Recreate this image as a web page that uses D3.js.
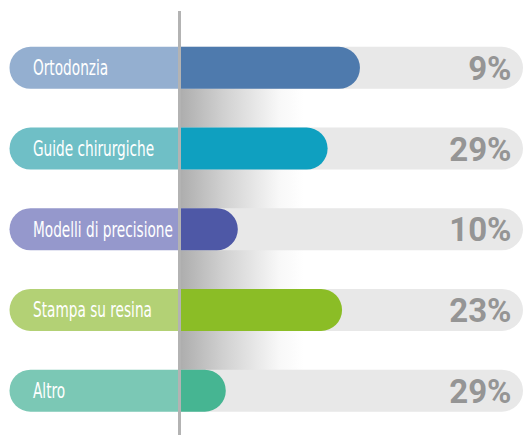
<!DOCTYPE html>
<html>
<head>
<meta charset="utf-8">
<script src="https://cdn.jsdelivr.net/npm/d3@7"></script>
<style>
  html, body { margin: 0; padding: 0; background: #fff; }
  svg { display: block; }
</style>
</head>
<body>
<svg width="523" height="435"></svg>
<script>
// categories, shown percentages and bar lengths (0-100 of the grey track)
const categories = ['Ortodonzia', 'Guide chirurgiche', 'Modelli di precisione', 'Stampa su resina', 'Altro'];
const percentLabels = ['9%', '29%', '10%', '23%', '29%'];
const barLengths = [52.6, 43.2, 17.1, 47.4, 13.6];
const pillColors = ['#94afd0', '#6fbfc6', '#9598cc', '#b3d175', '#7bc8b5'];
const barColors = ['#4e7aad', '#0fa0c0', '#4e58a6', '#8bbd26', '#46b592'];

const svg = d3.select('svg');
const width = 523, height = 435;
const axisX = 179;       // vertical line position
const pillLeft = 9.5;
const barH = 42;

const y = d3.scaleBand()
    .domain(categories)
    .range([27.5, 431])
    .paddingInner(0.48)
    .paddingOuter(0.24);

const x = d3.scaleLinear()
    .domain([0, 100])
    .range([axisX, width]);

// gradient shadow behind the bars
const defs = svg.append('defs');
const grad = defs.append('linearGradient').attr('id', 'shade')
    .attr('x1', '0%').attr('x2', '100%').attr('y1', '0%').attr('y2', '0%');
grad.append('stop').attr('offset', '0%').attr('stop-color', '#acacac');
grad.append('stop').attr('offset', '35%').attr('stop-color', '#d0d0d0');
grad.append('stop').attr('offset', '80%').attr('stop-color', '#f8f8f8');
grad.append('stop').attr('offset', '100%').attr('stop-color', '#ffffff');

const first = categories[0], last = categories[categories.length - 1];
svg.append('rect')
    .attr('x', axisX)
    .attr('y', y(first) + y.bandwidth() / 2)
    .attr('width', 125)
    .attr('height', y(last) - y(first))
    .attr('fill', 'url(#shade)');

function roundRight(x0, y0, w, h, r) {
    return `M${x0},${y0}H${x0 + w - r}A${r},${r} 0 0 1 ${x0 + w},${y0 + r}V${y0 + h - r}A${r},${r} 0 0 1 ${x0 + w - r},${y0 + h}H${x0}Z`;
}
function roundLeft(x0, y0, w, h, r) {
    return `M${x0 + w},${y0}H${x0 + r}A${r},${r} 0 0 0 ${x0},${y0 + r}V${y0 + h - r}A${r},${r} 0 0 0 ${x0 + r},${y0 + h}H${x0 + w}Z`;
}

const rows = svg.selectAll('g.row')
    .data(categories)
    .enter().append('g')
    .attr('class', 'row');

rows.each(function(c, i) {
    const g = d3.select(this);
    const cy = y(c) + y.bandwidth() / 2;
    const top = cy - barH / 2;
    const r = barH / 2;

    // grey track
    g.append('path')
        .attr('d', roundRight(axisX, top, width - axisX, barH, r))
        .attr('fill', '#e8e8e8');

    // coloured bar
    g.append('path')
        .attr('d', roundRight(axisX, top, x(barLengths[i]) - axisX, barH, r))
        .attr('fill', barColors[i]);

    // label pill
    g.append('path')
        .attr('d', roundLeft(pillLeft, top, axisX - pillLeft, barH, r))
        .attr('fill', pillColors[i]);

    g.append('text')
        .attr('class', 'lbl')
        .attr('x', 33)
        .attr('y', cy + 7.5)
        .attr('fill', '#ffffff')
        .style('font-family', '"Liberation Sans Narrow", "DejaVu Sans Condensed", sans-serif')
        .style('font-size', '21.5px')
        .text(c);

    g.append('text')
        .attr('x', 511.5)
        .attr('y', cy + 12)
        .attr('text-anchor', 'end')
        .attr('fill', '#959595')
        .style('font-family', 'Roboto, sans-serif')
        .style('font-weight', 700)
        .style('font-size', '33px')
        .text(percentLabels[i]);
});

// squeeze labels to the condensed look of the original
const probe = svg.selectAll('text.lbl').filter(d => d === 'Modelli di precisione').node();
const k = Math.min(1, 140 / probe.getComputedTextLength());
svg.selectAll('text.lbl')
    .attr('transform', function() {
        const tx = +d3.select(this).attr('x');
        return `translate(${tx},0) scale(${k},1) translate(${-tx},0)`;
    });

// vertical divider
svg.append('line')
    .attr('x1', axisX + 0.5).attr('x2', axisX + 0.5)
    .attr('y1', 11).attr('y2', height)
    .attr('stroke', '#b3b3b3')
    .attr('stroke-width', 3);
</script>
</body>
</html>
